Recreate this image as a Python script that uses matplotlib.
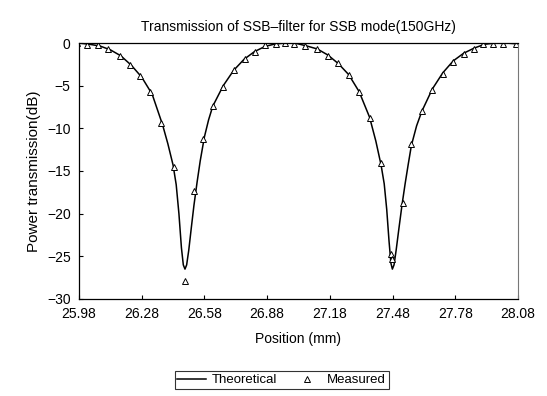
import matplotlib.pyplot as plt

plt.rcParams['font.family'] = ['Liberation Sans', 'DejaVu Sans']

# Theoretical curve
theory_x = [25.98, 26.03, 26.08, 26.13, 26.18, 26.23, 26.28, 26.33, 26.38, 26.405,
            26.43, 26.445, 26.458, 26.47, 26.479, 26.487, 26.495, 26.505, 26.518, 26.53,
            26.545, 26.56, 26.58, 26.60, 26.62, 26.67, 26.72, 26.77, 26.82, 26.87,
            26.92, 26.97, 27.02, 27.07, 27.12, 27.17, 27.22, 27.27, 27.32, 27.37,
            27.40, 27.425, 27.44, 27.452, 27.463, 27.472, 27.479, 27.487, 27.497, 27.51,
            27.525, 27.54, 27.555, 27.57, 27.595, 27.62, 27.67, 27.72, 27.77, 27.82,
            27.87, 27.92, 27.97, 28.02, 28.08]
theory_y = [0.0, -0.15, -0.35, -0.8, -1.5, -2.6, -4.0, -6.0, -9.6, -11.8,
            -14.3, -16.6, -20.0, -24.0, -26.0, -26.5, -26.0, -24.3, -21.5, -19.0,
            -16.3, -13.8, -11.0, -9.0, -7.4, -5.0, -3.2, -1.9, -1.0, -0.4,
            -0.1, 0.0, -0.05, -0.35, -0.7, -1.4, -2.4, -3.7, -5.7, -8.7,
            -11.5, -14.3, -16.5, -19.5, -23.2, -25.8, -26.5, -26.0, -24.3, -21.8,
            -19.0, -16.5, -14.2, -12.0, -9.7, -8.0, -5.4, -3.5, -2.1, -1.2,
            -0.6, -0.15, 0.0, 0.0, -0.1]

# Measured points
meas_x = [25.97, 26.02, 26.07, 26.12, 26.176, 26.224, 26.27, 26.32, 26.37, 26.434,
          26.487, 26.53, 26.575, 26.62, 26.67, 26.72, 26.774, 26.82, 26.87, 26.92,
          26.965, 27.01, 27.06, 27.117, 27.17, 27.22, 27.27, 27.32, 27.37, 27.425,
          27.474, 27.478, 27.53, 27.57, 27.62, 27.67, 27.72, 27.77, 27.82, 27.87,
          27.913, 27.96, 28.01, 28.07]
meas_y = [0.0, -0.2, -0.2, -0.7, -1.5, -2.6, -3.9, -5.7, -9.4, -14.5,
          -27.9, -17.3, -11.2, -7.4, -5.2, -3.2, -1.9, -1.0, -0.2, -0.1,
          0.0, -0.1, -0.3, -0.7, -1.5, -2.4, -3.75, -5.7, -8.8, -14.1,
          -24.7, -25.3, -18.8, -11.8, -8.0, -5.5, -3.6, -2.2, -1.3, -0.7,
          -0.1, -0.1, -0.1, -0.1]

xticks = [25.98, 26.28, 26.58, 26.88, 27.18, 27.48, 27.78, 28.08]
yticks = [0, -5, -10, -15, -20, -25, -30]

fig = plt.figure(figsize=(5.47, 3.96), dpi=100)
ax = fig.add_axes([0.1444, 0.245, 0.8026, 0.6464])

ax.plot(theory_x, theory_y, color='black', linewidth=1.1, label='Theoretical')
ax.plot(meas_x, meas_y, linestyle='none', marker='^', markersize=4.5,
        markerfacecolor='white', markeredgecolor='black', markeredgewidth=0.7,
        label='Measured')

ax.set_xlim(25.98, 28.08)
ax.set_ylim(-30, 0)
ax.set_xticks(xticks)
ax.set_xticklabels(['%.2f' % v for v in xticks])
ax.set_yticks(yticks)
ax.tick_params(direction='in', length=3, labelsize=10, pad=6)

for s in ['left', 'bottom', 'top']:
    ax.spines[s].set_color('black')
    ax.spines[s].set_linewidth(0.9)
ax.spines['right'].set_color('#777777')
ax.spines['right'].set_linestyle((0, (2, 1)))
ax.spines['right'].set_linewidth(0.8)

ax.set_title('Transmission of SSB\u2013filter for SSB mode(150GHz)', fontsize=10, pad=9)
ax.set_xlabel('Position (mm)', fontsize=10, labelpad=8)
ax.set_ylabel('Power transmission(dB)', fontsize=11, labelpad=4)

leg = fig.legend(loc='center', bbox_to_anchor=(0.515, 0.04), ncol=2, fontsize=9.5,
                 frameon=True, fancybox=False, edgecolor='black', handlelength=2.2,
                 handletextpad=0.4, columnspacing=1.2, borderpad=0.2)
leg.get_frame().set_linewidth(0.8)

fig.savefig('out.png', dpi=100)
